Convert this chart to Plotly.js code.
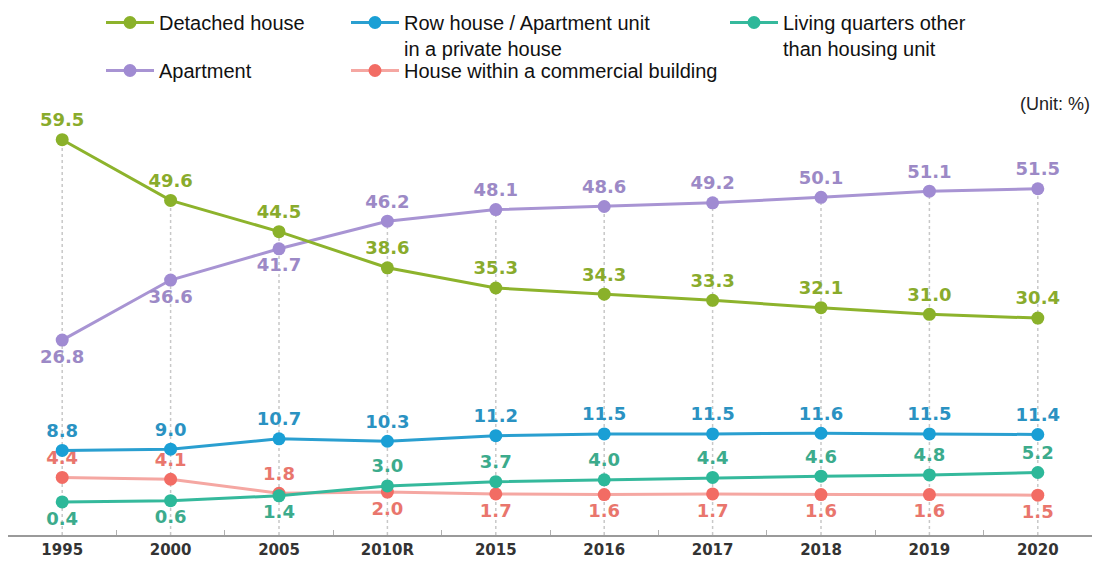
<!DOCTYPE html>
<html>
<head>
<meta charset="utf-8">
<script src="https://cdn.plot.ly/plotly-3.0.1.min.js"></script>
<style>html,body{margin:0;padding:0;background:#fff;}#chart{width:1095px;height:562px;}</style>
</head>
<body>
<div id="chart"></div>
<script>
// ---- data ----
const years = ["1995","2000","2005","2010R","2015","2016","2017","2018","2019","2020"];
const detached = [59.5,49.6,44.5,38.6,35.3,34.3,33.3,32.1,31.0,30.4];
const apartment = [26.8,36.6,41.7,46.2,48.1,48.6,49.2,50.1,51.1,51.5];
const rowHouse = [8.8,9.0,10.7,10.3,11.2,11.5,11.5,11.6,11.5,11.4];
const commercial = [4.4,4.1,1.8,2.0,1.7,1.6,1.7,1.6,1.6,1.5];
const livingQuarters = [0.4,0.6,1.4,3.0,3.7,4.0,4.4,4.6,4.8,5.2];
const seriesNames = ["Detached house","Row house / Apartment unit<br>in a private house","Living quarters other<br>than housing unit","Apartment","House within a commercial building"];
const unitLabel = "(Unit: %)";

// ---- styling ----
const Y_MIN = -5, Y_MAX = 65;
const labelFont = {family:"DejaVu Sans", size:18, weight:"bold"};
function pos(arr){ return arr.map(p => p === "t" ? "top center" : "bottom center"); }
const allT = years.map(() => "t");

function series(name, vals, lineColor, markerColor, textColor, positions, legendId){
  return {
    type:"scatter", mode:"lines+markers+text", name:name,
    x: years, y: vals,
    text: vals.map(v => v.toFixed(1)),
    textposition: pos(positions),
    textfont: Object.assign({color:textColor}, labelFont),
    line:{color:lineColor, width:3},
    marker:{color:markerColor, size:13},
    legend: legendId, cliponaxis:false, hoverinfo:"skip"
  };
}

// dotted guide lines from the axis up to the highest point at each year
const guides = years.map((yr, i) => {
  const top = Math.max(detached[i], apartment[i], rowHouse[i], commercial[i], livingQuarters[i]);
  return {type:"scatter", mode:"lines", x:[yr, yr], y:[Y_MIN, top], showlegend:false, hoverinfo:"skip",
    line:{color:"#c8c8c8", width:1.5, dash:"dot"}};
});

const traces = guides.concat([
  series(seriesNames[4], commercial, "#f5a7a2", "#f26c64", "#e9766d",
    ["t","t","t","b","b","b","b","b","b","b"], "legend3"),
  series(seriesNames[2], livingQuarters, "#35b99c", "#2db899", "#3cab8c",
    ["b","b","b","t","t","t","t","t","t","t"], "legend5"),
  series(seriesNames[1], rowHouse, "#2a9fd0", "#1a9fd5", "#2a92c2", allT, "legend2"),
  series(seriesNames[3], apartment, "#a894d3", "#a08bd2", "#9c89c6",
    ["b","b","b","t","t","t","t","t","t","t"], "legend4"),
  series(seriesNames[0], detached, "#8db32c", "#8ab12a", "#89ab2c", allT, "legend")
]);

function leg(xpx, ypx, valign){
  return {xref:"container", yref:"container", x:xpx/1095, y:1-ypx/562, xanchor:"left", yanchor:"top",
    orientation:"v", bgcolor:"rgba(0,0,0,0)", borderwidth:0, itemwidth:48, valign:valign||"middle",
    font:{family:"Liberation Sans", size:20, color:"#111"}, itemclick:false, itemdoubleclick:false};
}

const layout = {
  width:1095, height:562,
  margin:{l:8, r:3, t:106, b:27, autoexpand:false},
  paper_bgcolor:"#fff", plot_bgcolor:"#fff",
  showlegend:true,
  hovermode:false,
  xaxis:{type:"category", categoryarray:years, categoryorder:"array", range:[-0.5, 9.5], showgrid:false, zeroline:false,
    showline:true, linecolor:"#9a9a9a", linewidth:1.5,
    ticks:"inside", tickson:"boundaries", ticklen:5, tickcolor:"#b0b0b0",
    tickfont:{family:"DejaVu Sans", size:15, weight:"bold", color:"#333"}, fixedrange:true},
  yaxis:{range:[Y_MIN, Y_MAX], visible:false, fixedrange:true},
  legend: leg(101, 3),
  legend4: leg(101, 51),
  legend2: leg(346, 3, "top"),
  legend3: leg(346, 51),
  legend5: leg(725, 3, "top"),
  annotations:[{xref:"paper", yref:"paper", x:1, y:(535-104)/429, xanchor:"right", yanchor:"middle",
    text:unitLabel, showarrow:false, font:{family:"Liberation Sans", size:18, color:"#222"}}]
};

Plotly.newPlot("chart", traces, layout, {displayModeBar:false, staticPlot:true});
</script>
</body>
</html>
